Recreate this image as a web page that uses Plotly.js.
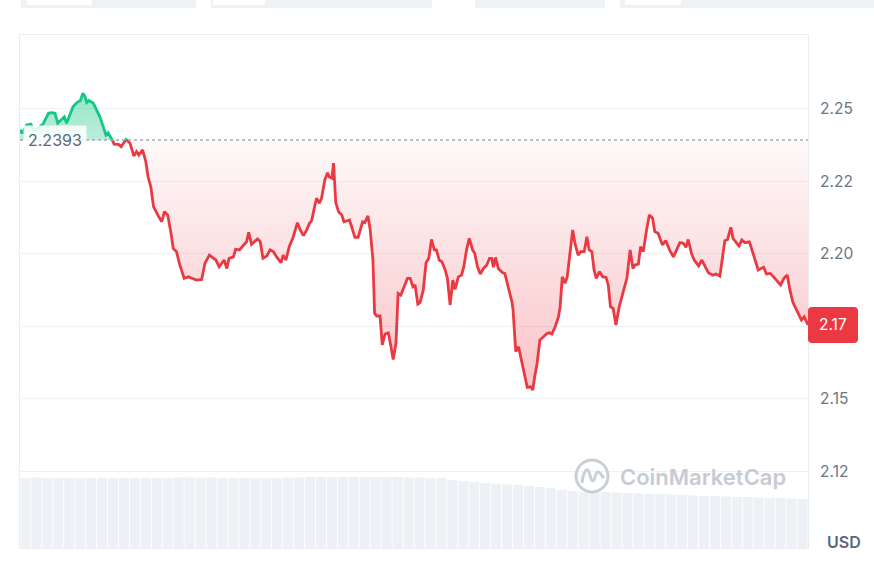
<!DOCTYPE html>
<html>
<head>
<meta charset="utf-8">
<script src="https://cdn.plot.ly/plotly-3.0.1.min.js"></script>
<style>
html,body{margin:0;padding:0;background:#fff;}
#chart{width:874px;height:562px;}
</style>
</head>
<body>
<div id="chart"></div>
<script>
// minutes since start of the 24h window
const times = [
  0,4,12,20,24,33,42,52,57,64,
  69,81,85,91,97,104,110,115,119,122,
  126,134,140,146,152,157,161,168,172,180,
  185,189,194,201,208,213,217,224,230,234,
  239,244,252,259,264,270,276,280,286,292,
  300,308,314,323,332,338,346,353,358,364,
  373,378,382,390,394,401,409,414,418,423,
  434,439,444,451,457,463,469,477,481,486,
  492,499,507,512,518,524,529,533,539,542,
  547,551,557,562,565,570,573,577,582,588,
  592,602,606,612,618,626,630,636,640,645,
  648,652,658,662,667,673,678,682,687,691,
  696,700,708,713,718,722,727,731,737,742,
  747,752,757,761,766,771,777,781,786,791,
  795,801,807,811,816,821,827,831,836,841,
  847,853,858,862,865,869,874,882,886,892,
  899,901,906,911,917,923,927,933,937,941,
  945,950,957,963,967,972,978,984,987,991,
  996,1000,1005,1010,1014,1020,1025,1031,1036,1040,
  1045,1049,1053,1059,1065,1071,1075,1079,1084,1089,
  1095,1101,1109,1115,1120,1124,1130,1134,1139,1145,
  1150,1156,1160,1166,1174,1180,1187,1194,1200,1206,
  1212,1217,1221,1227,1232,1240,1246,1252,1258,1266,
  1272,1279,1284,1288,1293,1299,1303,1310,1314,1319,
  1325,1333,1339,1349,1354,1359,1364,1371,1377,1383,
  1390,1396,1402,1407,1412,1419,1424,1428,1433,1438,
  1440
];
const prices = [
  2.2428,2.2416,2.2445,2.2448,2.2428,2.2434,2.2448,2.2485,2.2487,2.2485,
  2.2451,2.2473,2.2451,2.2479,2.2508,2.2522,2.2528,2.2554,2.2542,2.2522,
  2.2529,2.2520,2.2497,2.2473,2.2439,2.2410,2.2418,2.2395,2.2379,2.2378,
  2.2370,2.2382,2.2395,2.2382,2.2338,2.2353,2.2341,2.2359,2.2318,2.2266,
  2.2232,2.2163,2.2134,2.2111,2.2146,2.2134,2.2071,2.2019,2.2008,2.1962,
  2.1916,2.1921,2.1916,2.1910,2.1912,2.1968,2.1996,2.1985,2.1979,2.1956,
  2.1979,2.1950,2.1985,2.1990,2.2016,2.2014,2.2031,2.2042,2.2075,2.2033,
  2.2052,2.2042,2.1985,2.1993,2.2014,2.2008,2.1990,2.1970,2.1996,2.1979,
  2.2025,2.2057,2.2108,2.2083,2.2063,2.2083,2.2106,2.2115,2.2169,2.2192,
  2.2175,2.2192,2.2255,2.2280,2.2266,2.2261,2.2313,2.2177,2.2146,2.2134,
  2.2111,2.2117,2.2094,2.2057,2.2057,2.2111,2.2108,2.2131,2.2083,2.1979,
  2.1795,2.1786,2.1786,2.1686,2.1724,2.1728,2.1680,2.1636,2.1692,2.1864,
  2.1858,2.1876,2.1916,2.1916,2.1887,2.1893,2.1827,2.1832,2.1876,2.1970,
  2.1985,2.2050,2.2014,2.2014,2.1979,2.1973,2.1945,2.1916,2.1824,2.1910,
  2.1878,2.1921,2.1927,2.1956,2.2014,2.2054,2.2014,2.2002,2.1956,2.1931,
  2.1950,2.1962,2.1985,2.1985,2.1954,2.1988,2.1950,2.1935,2.1933,2.1887,
  2.1835,2.1807,2.1663,2.1680,2.1623,2.1571,2.1540,2.1542,2.1531,2.1582,
  2.1623,2.1703,2.1714,2.1726,2.1728,2.1724,2.1749,2.1783,2.1818,2.1921,
  2.1899,2.1921,2.2002,2.2083,2.2037,2.1996,2.2008,2.2008,2.2059,2.2014,
  2.2008,2.1945,2.1916,2.1939,2.1921,2.1919,2.1893,2.1818,2.1812,2.1755,
  2.1818,2.1864,2.1916,2.2014,2.1950,2.1962,2.1965,2.2025,2.2008,2.2083,
  2.2134,2.2123,2.2077,2.2071,2.2031,2.2046,2.2014,2.1990,2.2014,2.2039,
  2.2037,2.2023,2.2050,2.2002,2.1979,2.1959,2.1979,2.1956,2.1935,2.1927,
  2.1931,2.1924,2.1985,2.2046,2.2050,2.2092,2.2054,2.2039,2.2027,2.2048,
  2.2039,2.2042,2.2008,2.1945,2.1950,2.1954,2.1931,2.1933,2.1921,2.1908,
  2.1893,2.1916,2.1927,2.1876,2.1835,2.1807,2.1789,2.1772,2.1783,2.1761,
  2.1755
];
// 24h volume (millions USD), one bar per 20 minutes
const volume = [
  27.3,27.5,27.3,27.3,27.3,27.3,27.3,27.3,27.3,27.3,
  27.3,27.3,27.3,27.3,27.5,27.5,27.5,27.5,27.3,27.3,
  27.3,27.3,27.3,27.3,27.5,27.5,27.7,27.7,
  27.7,27.7,27.7,27.7,27.7,27.7,27.7,27.5,27.5,27.3,27.3,26.5,
  26.1,25.7,25.3,25.0,24.8,24.6,24.2,23.8,23.4,22.6,
  22.2,22.0,21.8,21.8,21.6,21.5,21.3,21.1,21.1,20.9,
  20.7,20.5,20.3,20.3,20.1,19.9,19.9,19.7,19.5,19.5,19.3,19.1
];
const openPrice = 2.2393;
const tickVals = [2.125, 2.15, 2.175, 2.2, 2.225, 2.25];
// the 2.17 tick label sits under the last-price tag, which shows "2.17" itself
const tickText = ['2.12', '2.15', '', '2.20', '2.22', '2.25'];
const lastLabel = '2.17';

const GREEN = '#16c784', RED = '#ea3943';
const FONT = 'Inter, "Noto Sans", "DejaVu Sans", sans-serif';

// split the series at crossings of the open price
const ax = [], ay = [];
for (let i = 0; i < times.length; i++) {
  ax.push(times[i]); ay.push(prices[i]);
  if (i < times.length - 1) {
    const a = prices[i] - openPrice, b = prices[i + 1] - openPrice;
    if (a * b < 0) {
      const f = a / (a - b);
      ax.push(times[i] + f * (times[i + 1] - times[i]));
      ay.push(openPrice);
    }
  }
}
const baseArr = ax.map(() => openPrice);
const upLine = ay.map(v => v >= openPrice ? v : null);
const dnLine = ay.map(v => v <= openPrice ? v : null);
const upFill = ay.map(v => Math.max(v, openPrice));
const dnFill = ay.map(v => Math.min(v, openPrice));
const volT = volume.map((v, i) => i * 20 + 10);
const lowP = Math.min.apply(null, prices);
const highP = Math.max.apply(null, prices);

const traces = [
  {type:'bar', x:volT, y:volume, yaxis:'y2', marker:{color:'#edf0f4', line:{width:0}}, hoverinfo:'skip'},
  {type:'scatter', mode:'lines', x:ax, y:baseArr, line:{width:0, color:'rgba(0,0,0,0)'}, hoverinfo:'skip'},
  {type:'scatter', mode:'lines', x:ax, y:upFill, line:{width:0, color:'rgba(0,0,0,0)'}, fill:'tonexty',
   fillcolor:'rgba(22,199,132,0.35)',
   fillgradient:{type:'vertical', start:openPrice, stop:highP,
     colorscale:[[0,'rgba(22,199,132,0.30)'],[1,'rgba(22,199,132,0.45)']]}, hoverinfo:'skip'},
  {type:'scatter', mode:'lines', x:ax, y:baseArr, line:{width:0, color:'rgba(0,0,0,0)'}, hoverinfo:'skip'},
  {type:'scatter', mode:'lines', x:ax, y:dnFill, line:{width:0, color:'rgba(0,0,0,0)'}, fill:'tonexty',
   fillcolor:'rgba(234,57,67,0.1)',
   fillgradient:{type:'vertical', start:lowP, stop:openPrice,
     colorscale:[[0,'rgba(234,57,67,0.30)'],[1,'rgba(234,57,67,0.03)']]}, hoverinfo:'skip'},
  {type:'scatter', mode:'lines', x:ax, y:upLine, line:{color:GREEN, width:2.8}, connectgaps:false},
  {type:'scatter', mode:'lines', x:ax, y:dnLine, line:{color:RED, width:2.8}, connectgaps:false}
];

// paper helpers for decorations (plot area is 20..808 x 35..548 px)
const px = x => (x - 20) / 788;
const py = y => (548 - y) / 513;

const shapes = [
  {type:'line', xref:'paper', yref:'y', x0:0, x1:1, y0:openPrice, y1:openPrice,
   line:{color:'#a3a9b4', width:1.3, dash:'dot'}, layer:'above'},
  // last price tag
  {type:'path', xref:'paper', yref:'y', xsizemode:'pixel', ysizemode:'pixel',
   xanchor:1, yanchor:prices[prices.length - 1],
   path:'M 0,-14 Q 0,-18 4,-18 L 46,-18 Q 50,-18 50,-14 L 50,14 Q 50,18 46,18 L 4,18 Q 0,18 0,14 Z',
   fillcolor:RED, line:{width:0}, layer:'above'},
  // watermark logo
  {type:'circle', xref:'paper', yref:'paper', xsizemode:'pixel', ysizemode:'pixel',
   xanchor:px(592), yanchor:py(476), x0:-16, x1:16, y0:-16, y1:16,
   line:{color:'#c9ced7', width:3}, fillcolor:'rgba(0,0,0,0)', layer:'above'},
  {type:'path', xref:'paper', yref:'paper', xsizemode:'pixel', ysizemode:'pixel',
   xanchor:px(592), yanchor:py(476),
   path:'M -10,-7 C -9,3 -6,7 -4,6 C -2,5 -2,-5 1,-5 C 3,-5 3,4 6,4 C 8,4 9,1 12,-2',
   line:{color:'#c9ced7', width:3}, fillcolor:'rgba(0,0,0,0)', layer:'above'},
  // top tabs (cut off by the window edge)
  {type:'rect', xref:'paper', yref:'paper', x0:px(21), x1:px(196), y0:py(8), y1:py(-6), fillcolor:'#eff2f5', line:{width:0}},
  {type:'rect', xref:'paper', yref:'paper', x0:px(27), x1:px(92), y0:py(5), y1:py(-6), fillcolor:'#ffffff', line:{width:0}},
  {type:'rect', xref:'paper', yref:'paper', x0:px(211), x1:px(432), y0:py(8), y1:py(-6), fillcolor:'#eff2f5', line:{width:0}},
  {type:'rect', xref:'paper', yref:'paper', x0:px(213), x1:px(265), y0:py(5), y1:py(-6), fillcolor:'#ffffff', line:{width:0}},
  {type:'rect', xref:'paper', yref:'paper', x0:px(475), x1:px(605), y0:py(8), y1:py(-6), fillcolor:'#eff2f5', line:{width:0}},
  {type:'rect', xref:'paper', yref:'paper', x0:px(620), x1:px(880), y0:py(8), y1:py(-6), fillcolor:'#eff2f5', line:{width:0}},
  {type:'rect', xref:'paper', yref:'paper', x0:px(625), x1:px(681), y0:py(5), y1:py(-6), fillcolor:'#ffffff', line:{width:0}}
];

const annotations = [
  {xref:'paper', yref:'y', x:0, y:openPrice, xanchor:'left', yanchor:'middle', xshift:3,
   text:openPrice.toFixed(4), showarrow:false, font:{family:FONT, size:16, color:'#58667e'},
   bgcolor:'rgba(255,255,255,0.85)', borderpad:4},
  {xref:'paper', yref:'y', x:px(833), y:prices[prices.length - 1], xanchor:'center', yanchor:'middle',
   text:lastLabel, showarrow:false, font:{family:FONT, size:15.5, color:'#ffffff'}},
  {xref:'paper', yref:'paper', x:px(844), y:py(542), xanchor:'center', yanchor:'middle',
   text:'USD', showarrow:false, font:{family:FONT, size:16, color:'#58667e', weight:600}},
  {xref:'paper', yref:'paper', x:px(703), y:py(477), xanchor:'center', yanchor:'middle',
   text:'CoinMarketCap', showarrow:false, font:{family:FONT, size:22, color:'#c6cbd4', weight:600}}
];

const layout = {
  width:874, height:562,
  margin:{l:20, r:66, t:35, b:14, pad:0},
  paper_bgcolor:'#ffffff', plot_bgcolor:'#ffffff',
  showlegend:false,
  bargap:0.08,
  xaxis:{range:[0,1440], showgrid:false, zeroline:false, showticklabels:false, ticks:'',
         showline:true, mirror:true, linecolor:'#eaedf1', linewidth:1, fixedrange:true},
  yaxis:{side:'right', range:[2.0986, 2.2755], tickvals:tickVals, ticktext:tickText,
         gridcolor:'#eff2f5', gridwidth:1, zeroline:false, ticks:'', ticklabelstandoff:8,
         showline:true, mirror:true, linecolor:'#eaedf1', linewidth:1,
         tickfont:{family:FONT, size:15.5, color:'#6a7588'}, fixedrange:true},
  yaxis2:{overlaying:'y', range:[0,200], visible:false, fixedrange:true},
  shapes:shapes,
  annotations:annotations,
  hovermode:false
};

Plotly.newPlot('chart', traces, layout, {displayModeBar:false, staticPlot:true});
</script>
</body>
</html>
